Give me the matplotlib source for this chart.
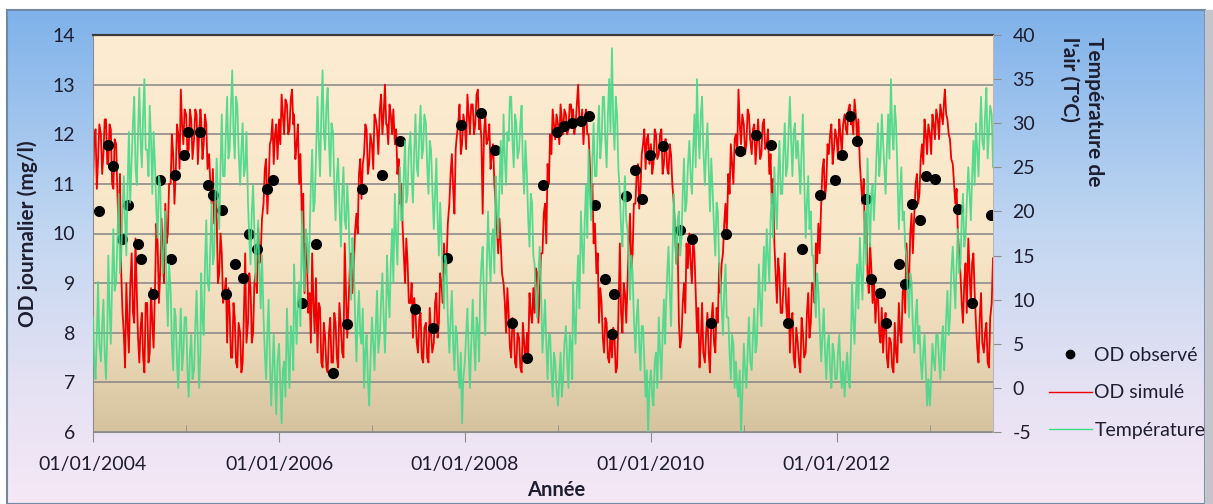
import matplotlib
matplotlib.use('Agg')
import matplotlib.pyplot as plt
import matplotlib.dates as mdates
from matplotlib.colors import LinearSegmentedColormap
from matplotlib.lines import Line2D
from matplotlib.patches import Rectangle
import numpy as np
import pandas as pd

plt.rcParams['font.family'] = ['Lato', 'DejaVu Sans']
plt.rcParams['axes.unicode_minus'] = False

# OD simulé (mg/l) : 6 valeurs par mois (jours 1, 6, 11, 16, 21, 26), une ligne par année
od_simule = [
    11.0, 11.9, 12.1, 10.9, 11.5, 12.2, 12.0, 11.2, 11.6, 12.3, 12.3, 11.4, 11.4, 12.2, 12.1, 11.0, 10.9, 11.9,
    11.8, 10.8, 10.0, 11.2, 9.2, 8.4, 8.0, 7.3, 9.0, 8.2, 7.6, 8.9, 9.6, 8.4, 8.2, 9.9, 8.8, 7.9,
    7.4, 8.1, 8.4, 7.5, 7.2, 8.6, 8.6, 7.4, 7.6, 8.9, 8.2, 7.7, 9.0, 10.2, 9.8, 8.6, 9.2, 10.3,
    9.6, 9.0, 10.6, 9.8, 10.0, 11.0, 11.0, 12.0, 11.6, 10.6, 11.2, 12.2, 12.0, 11.3, 12.9, 12.2, 11.8, 12.5,  # 2004
    12.4, 11.6, 11.7, 12.5, 12.3, 11.5, 11.9, 12.5, 12.4, 11.4, 12.0, 12.5, 12.3, 11.5, 11.8, 12.4, 12.2, 11.3,
    11.6, 11.0, 10.6, 11.3, 10.2, 10.8, 10.3, 9.0, 9.2, 10.0, 9.6, 8.6, 8.8, 9.1, 7.8, 8.9, 8.4, 7.5,
    7.5, 8.6, 8.3, 7.4, 7.3, 8.2, 8.0, 7.2, 7.4, 8.4, 9.6, 7.8, 8.2, 9.2, 8.9, 7.8, 8.0, 9.0,
    9.2, 8.8, 10.1, 9.4, 9.6, 10.3, 10.6, 11.3, 11.5, 10.4, 11.0, 11.8, 11.9, 12.3, 11.4, 12.0, 12.2, 11.5,  # 2005
    12.3, 11.8, 12.8, 12.4, 12.0, 12.7, 12.6, 12.0, 12.1, 12.7, 12.9, 12.2, 12.4, 11.5, 11.8, 12.2, 11.0, 11.6,
    10.2, 10.8, 8.8, 9.8, 9.4, 8.4, 8.8, 7.8, 9.6, 8.6, 8.0, 9.1, 7.6, 8.6, 8.5, 7.4, 7.3, 8.2,
    7.9, 7.3, 7.2, 8.0, 8.3, 7.4, 7.4, 8.4, 8.2, 7.5, 7.3, 8.6, 8.1, 7.6, 7.5, 9.8, 8.8, 7.9,
    8.6, 9.3, 9.6, 8.8, 9.2, 10.0, 10.4, 10.0, 11.2, 11.5, 10.7, 11.4, 11.6, 12.2, 12.1, 11.2, 11.4, 12.0,  # 2006
    11.8, 11.3, 12.4, 12.3, 12.1, 11.6, 12.5, 12.8, 12.0, 12.4, 13.0, 12.2, 12.2, 11.8, 12.6, 12.4, 12.0, 12.5,
    11.8, 12.1, 11.2, 11.5, 10.6, 11.0, 10.2, 9.6, 9.0, 9.9, 9.4, 8.6, 8.6, 9.0, 7.9, 8.7, 8.4, 7.8,
    7.6, 8.3, 8.4, 7.5, 7.4, 8.1, 8.2, 7.5, 7.4, 8.5, 8.0, 7.6, 7.8, 8.6, 8.8, 7.9, 8.2, 9.2,
    9.0, 8.6, 9.8, 9.2, 9.4, 10.2, 10.6, 11.2, 11.6, 10.9, 10.4, 11.7, 12.0, 12.2, 12.6, 11.6, 11.8, 12.4,  # 2007
    12.2, 11.7, 12.8, 12.4, 12.0, 12.6, 12.6, 12.0, 12.2, 12.8, 12.9, 12.1, 12.3, 11.9, 10.4, 12.0, 12.4, 11.8,
    11.9, 12.2, 11.3, 11.6, 11.8, 11.0, 10.6, 10.1, 9.6, 10.3, 9.8, 9.2, 9.0, 8.6, 8.0, 8.9, 8.4, 7.7,
    7.5, 8.3, 8.2, 7.4, 7.3, 8.0, 7.9, 7.3, 7.2, 8.2, 7.8, 7.4, 8.0, 7.6, 8.8, 8.4, 8.2, 8.9,
    8.4, 9.3, 9.2, 8.2, 8.8, 9.6, 9.6, 10.4, 10.6, 9.8, 11.4, 11.0, 12.0, 11.6, 12.5, 12.2, 11.9, 12.4,  # 2008
    12.2, 11.8, 12.6, 12.3, 12.0, 12.5, 12.4, 12.0, 12.1, 12.6, 12.6, 12.2, 12.5, 12.0, 12.2, 12.6, 13.0, 12.3,
    12.2, 12.5, 11.8, 12.3, 12.5, 12.0, 12.0, 11.4, 10.6, 11.0, 9.8, 10.2, 9.2, 9.6, 8.2, 8.9, 8.6, 7.9,
    7.6, 8.3, 8.2, 7.5, 7.4, 8.0, 7.5, 8.1, 7.9, 7.2, 7.3, 8.3, 9.8, 8.4, 8.0, 9.0, 8.8, 8.2,
    9.0, 9.8, 10.4, 9.3, 9.6, 10.6, 10.6, 11.2, 11.4, 10.5, 10.9, 11.6, 11.8, 12.1, 11.3, 11.9, 12.0, 11.4,  # 2009
    11.8, 11.2, 11.4, 12.1, 12.0, 11.5, 11.6, 12.0, 12.1, 11.2, 11.4, 11.9, 11.9, 11.3, 11.2, 11.8, 11.6, 11.0,
    10.6, 10.0, 9.4, 9.8, 8.2, 7.7, 7.9, 8.6, 9.0, 8.4, 9.8, 9.3, 10.0, 9.4, 9.0, 9.9, 9.6, 8.8,
    8.0, 8.5, 7.3, 7.8, 8.6, 7.6, 7.4, 8.0, 8.4, 7.6, 7.2, 8.2, 8.6, 7.8, 7.6, 8.5, 8.2, 9.4,
    8.8, 9.4, 9.6, 10.2, 10.6, 10.0, 11.2, 10.8, 11.8, 11.4, 11.0, 11.9, 12.0, 11.6, 12.9, 12.2, 11.8, 12.4,  # 2010
    12.2, 11.6, 11.8, 12.5, 12.4, 11.9, 11.6, 12.1, 12.2, 11.4, 11.8, 12.3, 12.0, 11.5, 11.6, 12.2, 12.3, 11.7,
    11.8, 12.1, 11.2, 11.6, 10.6, 11.1, 9.8, 9.2, 8.6, 9.5, 9.2, 8.4, 8.4, 9.0, 9.6, 8.6, 8.2, 8.9,
    7.6, 8.2, 8.4, 7.5, 7.3, 8.1, 7.8, 7.4, 7.2, 8.3, 8.0, 7.5, 7.6, 8.4, 8.8, 7.9, 8.2, 9.0,
    9.0, 8.6, 9.8, 9.4, 10.2, 9.6, 10.6, 11.3, 11.5, 10.7, 11.0, 11.8, 11.6, 12.0, 12.2, 11.4, 11.7, 12.1,  # 2011
    11.9, 11.5, 12.3, 12.0, 11.6, 12.2, 12.4, 12.1, 12.0, 12.5, 12.6, 12.2, 12.3, 12.0, 12.7, 12.4, 11.9, 12.3,
    11.4, 11.0, 10.6, 11.1, 9.8, 10.4, 9.2, 8.8, 9.8, 9.3, 8.6, 9.1, 8.2, 8.7, 8.8, 8.0, 7.8, 8.5,
    7.6, 8.1, 8.4, 7.5, 7.3, 7.9, 7.8, 7.3, 7.2, 8.2, 7.6, 7.4, 8.6, 8.0, 7.8, 8.8, 9.0, 8.4,
    9.8, 9.2, 9.0, 10.0, 10.4, 9.6, 10.4, 11.0, 11.2, 10.6, 10.8, 11.5, 11.8, 11.4, 12.3, 12.0, 11.6, 12.2,  # 2012
    12.0, 11.6, 12.4, 12.2, 11.9, 12.5, 12.3, 11.9, 12.6, 12.4, 12.2, 12.7, 12.9, 12.4, 12.3, 12.0, 11.9, 11.5,
    11.4, 11.0, 10.6, 10.9, 10.0, 9.6, 9.2, 8.6, 8.2, 9.0, 9.4, 8.4, 9.9, 9.2, 8.6, 9.4, 9.6, 8.8,
    8.2, 7.7, 7.4, 8.3, 8.8, 7.8, 7.6, 8.0, 8.2, 7.4, 7.3, 8.3, 8.6, 9.5,  # 2013
]

# Température de l'air (°C) : mêmes dates
temperature = [
    8, 3, 1, 6, 12, 5, 3, 7, 10, 4, 1, 6, 15, 9, 5, 12, 18, 11, 12, 17, 22, 13, 15, 20,
    24, 19, 15, 23, 29, 21, 26, 30, 33, 25, 23, 29, 34, 28, 25, 31, 35, 27, 27, 24, 32, 28, 22, 29,
    25, 20, 17, 24, 23, 16, 13, 17, 20, 11, 7, 14, 11, 5, 2, 9, 8, 3, 0, 5, 9, 2, 4, 8,  # 2004
    8, 2, -1, 4, 6, 1, 2, 7, 11, 5, 0, 4, 13, 8, 6, 14, 19, 12, 11, 16, 21, 14, 15, 22,
    26, 21, 18, 25, 31, 24, 24, 29, 33, 26, 27, 32, 36, 29, 26, 33, 32, 27, 23, 27, 30, 24, 25, 29,
    21, 17, 14, 20, 23, 18, 12, 16, 19, 13, 9, 15, 8, 4, 1, 6, 10, 3, -2, 2, 6, 1, -3, 3,  # 2005
    5, 0, -4, 2, 3, -1, 9, 4, 0, 7, 6, 2, 14, 9, 5, 10, 12, 7, 20, 14, 11, 18, 17, 13,
    17, 23, 27, 20, 21, 26, 33, 28, 24, 31, 36, 29, 27, 32, 34, 28, 24, 30, 29, 23, 19, 24, 26, 21,
    16, 22, 25, 19, 18, 23, 20, 14, 10, 17, 15, 9, 3, 8, 11, 6, 5, 9, 0, 4, 6, 1, -2, 3,  # 2006
    8, 5, 2, 7, 11, 4, 6, 10, 13, 8, 4, 9, 15, 11, 8, 14, 18, 12, 22, 17, 14, 21, 25, 19,
    19, 24, 28, 21, 22, 27, 29, 24, 21, 27, 31, 25, 24, 29, 32, 26, 27, 31, 30, 25, 22, 28, 27, 23,
    18, 22, 26, 19, 15, 21, 17, 12, 9, 15, 14, 8, 4, 8, 11, 5, 2, 7, 6, 2, 0, 4, -4, 1,  # 2007
    3, 6, 9, 4, 0, 5, 10, 5, 2, 8, 7, 3, 11, 14, 16, 10, 6, 12, 20, 15, 12, 17, 18, 13,
    24, 20, 17, 23, 28, 22, 31, 26, 23, 29, 28, 33, 33, 28, 25, 31, 30, 26, 27, 30, 32, 25, 22, 28,
    24, 19, 16, 22, 21, 15, 14, 10, 8, 13, 16, 11, 4, 7, 10, 5, 1, 6, 6, 2, -1, 4, 3, 0,  # 2008
    -2, 1, 4, -1, 1, 5, 7, 3, 0, 6, 5, 1, 12, 8, 5, 11, 15, 9, 20, 16, 13, 19, 23, 17,
    27, 22, 19, 26, 30, 24, 24, 29, 32, 26, 28, 33, 33, 28, 25, 31, 35, 29, 38.5, 30, 27, 33, 31, 25,
    22, 18, 16, 21, 24, 19, 18, 14, 10, 15, 13, 8, 4, 8, 10, 5, 2, 7, 7, 3, -1, 2, -5, 0,  # 2009
    2, -1, -2, 3, 4, 0, 8, 4, 1, 6, 10, 5, 9, 13, 16, 11, 7, 14, 22, 17, 14, 19, 20, 15,
    17, 22, 26, 20, 21, 25, 28, 24, 22, 27, 31, 25, 35, 29, 26, 31, 33, 27, 23, 27, 30, 25, 20, 26,
    22, 18, 15, 21, 20, 14, 12, 9, 6, 11, 14, 8, 8, 4, 1, 6, 5, 0, 3, 0, -1, 2, -5, -1,  # 2010
    5, 2, 0, 4, 8, 3, 2, 6, 9, 4, 5, 10, 14, 10, 7, 12, 16, 11, 18, 15, 12, 19, 22, 17,
    25, 21, 18, 24, 28, 22, 22, 27, 30, 24, 25, 29, 33, 28, 24, 29, 30, 26, 28, 25, 22, 27, 31, 24,
    17, 21, 24, 18, 20, 15, 15, 11, 8, 13, 11, 7, 3, 6, 9, 4, 1, 5, 6, 2, 0, 5, 4, 1,  # 2011
    1, 4, 6, 2, 0, 3, -1, 2, 4, 1, 0, 5, 12, 8, 5, 10, 14, 9, 17, 13, 10, 15, 20, 14,
    26, 20, 16, 22, 23, 19, 23, 27, 30, 24, 26, 31, 28, 25, 22, 27, 31, 26, 35, 29, 27, 32, 30, 25,
    18, 22, 25, 19, 20, 16, 15, 11, 8, 13, 12, 7, 4, 8, 10, 5, 7, 3, 1, 4, 6, 2, -2, 1,  # 2012
    -2, 1, 5, 3, 2, 6, 6, 3, 1, 5, 7, 2, 4, 8, 11, 6, 8, 13, 16, 12, 9, 14, 18, 13,
    14, 19, 22, 16, 17, 21, 25, 22, 19, 24, 28, 23, 30, 27, 24, 29, 33, 28, 27, 31, 34, 26, 29, 32,
    31, 25,  # 2013
]

# OD observé (mg/l)
obs_dates = [
    '2004-01-24', '2004-02-27', '2004-03-20', '2004-04-22', '2004-05-16', '2004-06-26', '2004-07-07',
    '2004-08-23', '2004-09-20', '2004-11-01', '2004-11-20', '2004-12-24', '2005-01-10', '2005-02-24',
    '2005-03-29', '2005-04-15', '2005-05-20', '2005-06-07', '2005-07-12', '2005-08-12', '2005-09-03',
    '2005-10-08', '2005-11-13', '2005-12-09', '2006-03-31', '2006-05-26', '2006-08-02', '2006-09-26',
    '2006-11-24', '2007-02-11', '2007-04-20', '2007-06-21', '2007-08-27', '2007-10-21', '2007-12-15',
    '2008-03-04', '2008-04-28', '2008-07-03', '2008-08-31', '2008-11-02', '2008-12-27', '2009-01-26',
    '2009-02-24', '2009-04-01', '2009-05-03', '2009-05-26', '2009-07-03', '2009-08-09', '2009-08-01',
    '2009-09-27', '2009-11-01', '2009-11-25', '2009-12-28', '2010-02-19', '2010-04-24', '2010-06-10',
    '2010-08-26', '2010-10-24', '2010-12-17', '2011-02-19', '2011-04-16', '2011-06-24', '2011-08-16',
    '2011-10-26', '2011-12-27', '2012-01-22', '2012-02-24', '2012-03-22', '2012-04-24', '2012-05-14',
    '2012-06-18', '2012-07-14', '2012-09-01', '2012-09-27', '2012-10-24', '2012-11-22', '2012-12-18',
    '2013-01-22', '2013-04-21', '2013-06-14', '2013-08-28',
]
od_observe = [
    10.46, 11.79, 11.37, 9.88, 10.58, 9.79, 9.49,
    8.78, 11.08, 9.49, 11.17, 11.58, 12.05, 12.05,
    10.97, 10.78, 10.48, 8.78, 9.38, 9.10, 9.99,
    9.68, 10.89, 11.08, 8.59, 9.79, 7.18, 8.18,
    10.89, 11.17, 11.87, 8.48, 8.09, 9.50, 12.18,
    12.43, 11.69, 8.20, 7.50, 10.98, 12.05, 12.16,
    12.22, 12.26, 12.37, 10.58, 9.09, 8.78, 7.97,
    10.76, 11.27, 10.69, 11.58, 11.77, 10.07, 9.88,
    8.20, 9.99, 11.67, 11.99, 11.79, 8.20, 9.68,
    10.78, 11.08, 11.58, 12.37, 11.87, 10.69, 9.09,
    8.80, 8.20, 9.38, 8.98, 10.60, 10.27, 11.16,
    11.10, 10.50, 8.59, 10.38,
]

dates = [pd.Timestamp(y, m, d) for y in range(2004, 2014) for m in range(1, 13)
         for d in (1, 6, 11, 16, 21, 26)]
obs_dates = pd.to_datetime(obs_dates)

W, H = 1213, 504
fig = plt.figure(figsize=(W / 100, H / 100), dpi=100)
fig.patch.set_facecolor('white')


def gradient_axes(rect, stops, z):
    g = fig.add_axes(rect, zorder=z)
    cmap = LinearSegmentedColormap.from_list('grad', stops)
    g.imshow(np.linspace(0, 1, 256).reshape(-1, 1), cmap=cmap, aspect='auto',
             extent=[0, 1, 0, 1], origin='upper')
    g.set_axis_off()
    return g


# fond du graphique (bleu -> lavande)
gradient_axes([7 / W, 0, 1198 / W, 494 / H],
              [(0, '#7fb2ea'), (0.45, '#c2d7f1'), (0.75, '#e4e1f3'), (1, '#f6e8f6')], -3)
fig.patches.append(Rectangle((7 / W, 0), 1198 / W, 494 / H, transform=fig.transFigure,
                             fill=False, edgecolor='#7388a3', lw=1.5, zorder=-2))
fig.patches.append(Rectangle((1205 / W, 0), 8 / W, 494 / H, transform=fig.transFigure,
                             color='#c4c4cc', zorder=-2))

# zone de tracé
pos = [93 / W, 1 - 432 / H, 900 / W, 397 / H]
gradient_axes(pos, [(0, '#fdecd2'), (0.5, '#f9e7c9'), (0.78, '#ebd9b8'), (1, '#d5c29e')], -1)

ax = fig.add_axes(pos)
ax.patch.set_visible(False)
ax2 = ax.twinx()
ax2.patch.set_visible(False)

red = '#f00000'
green = '#45d98a'
ax.plot(dates[:len(od_simule)], od_simule, color=red, lw=1.3, zorder=2)
ax.plot(obs_dates, od_observe, 'o', color='black', ms=7, zorder=3)
ax2.plot(dates[:len(temperature)], temperature, color=green, lw=1.3, alpha=0.9, zorder=4)

ax.set_xlim(pd.Timestamp('2004-01-01'), pd.Timestamp('2013-09-06'))
ax.set_ylim(6, 14)
ax2.set_ylim(-5, 40)
ax.set_yticks(range(6, 15))
ax2.set_yticks(range(-5, 41, 5))

ax.yaxis.grid(True, color='#858585', lw=1.1)
ax.set_axisbelow(True)

ax.xaxis.set_major_locator(mdates.YearLocator(2))
ax.xaxis.set_minor_locator(mdates.YearLocator(1))
ax.xaxis.set_major_formatter(mdates.DateFormatter('%d/%m/%Y'))

txt = '#1e1e30'
ax.tick_params(axis='x', which='major', direction='out', length=7, color='#8c8c8c',
               labelsize=14, labelcolor=txt, pad=10)
ax.tick_params(axis='x', which='minor', direction='in', length=5, color='#8c8c8c')
ax.tick_params(axis='y', length=0, labelsize=14, labelcolor=txt, pad=13)
ax2.tick_params(axis='y', direction='out', length=6, color='#8c8c8c',
                labelsize=14, labelcolor=txt, pad=8)

for s in ('left', 'bottom'):
    ax.spines[s].set_color('#8c8c8c')
ax.spines['top'].set_color('#3c3c3c')
ax.spines['top'].set_linewidth(1.6)
ax.spines['right'].set_visible(False)
for s in ('left', 'top', 'bottom'):
    ax2.spines[s].set_visible(False)
ax2.spines['right'].set_color('#b8b8b8')

ax.set_ylabel('OD journalier (mg/l)', fontsize=15, fontweight='bold', color=txt, labelpad=10)
fig.text(556 / W, 1 - 490 / H, 'Année', fontsize=14.5, fontweight='bold', color=txt,
         ha='center', va='center')
fig.text(1082 / W, 1 - 37 / H, "Température de\nl'air (T°C)", fontsize=15, fontweight='bold',
         color=txt, rotation=270, ha='center', va='top', multialignment='left', linespacing=1.3)

handles = [
    Line2D([], [], ls='none', marker='o', color='black', ms=6),
    Line2D([], [], color=red, lw=1.0),
    Line2D([], [], color=green, lw=1.0),
]
fig.legend(handles, ['OD observé', 'OD simulé', 'Température'], loc='center left',
           bbox_to_anchor=(1039 / W, 1 - 393 / H), frameon=False, fontsize=14,
           handlelength=2.2, handletextpad=0.15, labelspacing=1.05, borderpad=0,
           labelcolor=txt)

fig.savefig('out.png', dpi=100)
